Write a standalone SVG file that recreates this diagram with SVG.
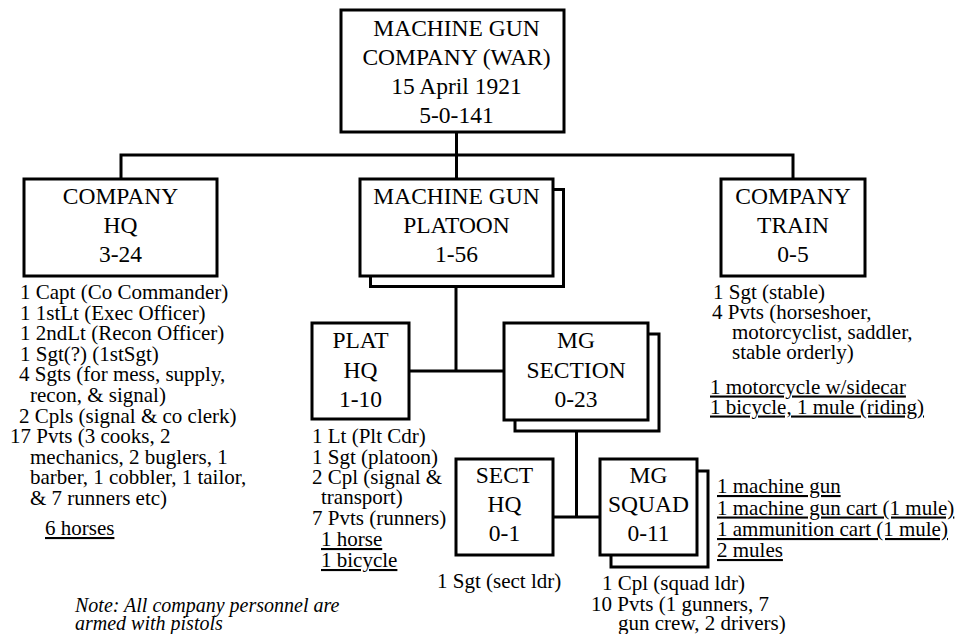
<svg xmlns="http://www.w3.org/2000/svg" width="959" height="634" viewBox="0 0 959 634">
<style>
.box{fill:#fff;stroke:#000;stroke-width:3}
.con{fill:none;stroke:#000;stroke-width:3}
.h{font-size:23.5px;text-anchor:middle;fill:#000}
.t{font-size:21px;fill:#000}
.u{text-decoration:underline}
.n{font-size:20px;font-style:italic;fill:#000}
</style>
<rect width="959" height="634" fill="#fff"/>
<g id="connectors">
<path class="con" d="M456.5,132 V180 M121,180 V155 H793 V180"/>
<path class="con" d="M456,287 V371 M409,371 H504"/>
<path class="con" d="M576.5,431 V517 M553,517 H600"/>
</g>
<g font-family="'Liberation Serif', 'DejaVu Serif', 'Times New Roman', serif">
<g id="company">
<rect class="box" x="341" y="10" width="223" height="122"/>
<text class="h" x="456.5" y="36">MACHINE GUN</text>
<text class="h" x="456.5" y="65">COMPANY (WAR)</text>
<text class="h" x="456.5" y="94">15 April 1921</text>
<text class="h" x="456.5" y="123">5-0-141</text>
</g>
<g id="company-hq">
<rect class="box" x="24" y="179" width="193" height="97"/>
<text class="h" x="120.5" y="204">COMPANY</text>
<text class="h" x="120.5" y="233">HQ</text>
<text class="h" x="120.5" y="262">3-24</text>
<text class="t" x="20" y="299">1 Capt (Co Commander)</text>
<text class="t" x="20" y="319.6">1 1stLt (Exec Officer)</text>
<text class="t" x="20" y="340.2">1 2ndLt (Recon Officer)</text>
<text class="t" x="20" y="360.8">1 Sgt(?) (1stSgt)</text>
<text class="t" x="19" y="381.4">4 Sgts (for mess, supply,</text>
<text class="t" x="30" y="402">recon, &amp; signal)</text>
<text class="t" x="19" y="422.6">2 Cpls (signal &amp; co clerk)</text>
<text class="t" x="10" y="443.2">17 Pvts (3 cooks, 2</text>
<text class="t" x="30" y="463.8">mechanics, 2 buglers, 1</text>
<text class="t" x="30" y="484.4">barber, 1 cobbler, 1 tailor,</text>
<text class="t" x="30" y="505">&amp; 7 runners etc)</text>
<text class="t u" x="45" y="535">6 horses</text>
</g>
<g id="mg-platoon">
<rect class="box" x="370.5" y="189.5" width="193" height="97"/>
<rect class="box" x="360" y="179" width="193" height="97"/>
<text class="h" x="456.5" y="204">MACHINE GUN</text>
<text class="h" x="456.5" y="233">PLATOON</text>
<text class="h" x="456.5" y="262">1-56</text>
</g>
<g id="company-train">
<rect class="box" x="721" y="179" width="144" height="97"/>
<text class="h" x="793" y="204">COMPANY</text>
<text class="h" x="793" y="233">TRAIN</text>
<text class="h" x="793" y="262">0-5</text>
<text class="t" x="713" y="298.5">1 Sgt (stable)</text>
<text class="t" x="712" y="318.5">4 Pvts (horseshoer,</text>
<text class="t" x="732" y="338.5">motorcyclist, saddler,</text>
<text class="t" x="732" y="358.5">stable orderly)</text>
<text class="t u" x="710" y="393.5">1 motorcycle w/sidecar</text>
<text class="t u" x="710" y="413.5">1 bicycle, 1 mule (riding)</text>
</g>
<g id="plat-hq">
<rect class="box" x="312" y="323" width="97" height="96"/>
<text class="h" x="360.5" y="348">PLAT</text>
<text class="h" x="360.5" y="378">HQ</text>
<text class="h" x="360.5" y="407">1-10</text>
<text class="t" x="312" y="442.5">1 Lt (Plt Cdr)</text>
<text class="t" x="312" y="463.5">1 Sgt (platoon)</text>
<text class="t" x="312" y="484">2 Cpl (signal &amp;</text>
<text class="t" x="321" y="504">transport)</text>
<text class="t" x="312" y="525">7 Pvts (runners)</text>
<text class="t u" x="321" y="546">1 horse</text>
<text class="t u" x="321" y="567">1 bicycle</text>
</g>
<g id="mg-section">
<rect class="box" x="515" y="334" width="144" height="97"/>
<rect class="box" x="504" y="323" width="144" height="97"/>
<text class="h" x="576" y="348">MG</text>
<text class="h" x="576" y="378">SECTION</text>
<text class="h" x="576" y="407">0-23</text>
</g>
<g id="sect-hq">
<rect class="box" x="456" y="459" width="97" height="96"/>
<text class="h" x="504.5" y="483">SECT</text>
<text class="h" x="504.5" y="512">HQ</text>
<text class="h" x="504.5" y="541">0-1</text>
<text class="t" x="437" y="588">1 Sgt (sect ldr)</text>
</g>
<g id="mg-squad">
<rect class="box" x="611" y="471" width="97" height="96"/>
<rect class="box" x="600" y="459" width="97" height="96"/>
<text class="h" x="648.5" y="483">MG</text>
<text class="h" x="648.5" y="512">SQUAD</text>
<text class="h" x="648.5" y="541">0-11</text>
<text class="t u" x="717" y="493">1 machine gun</text>
<text class="t u" x="717" y="514.5">1 machine gun cart (1 mule)</text>
<text class="t u" x="717" y="536">1 ammunition cart (1 mule)</text>
<text class="t u" x="717" y="557">2 mules</text>
<text class="t" x="602" y="590">1 Cpl (squad ldr)</text>
<text class="t" x="591" y="610.5">10 Pvts (1 gunners, 7</text>
<text class="t" x="618" y="630">gun crew, 2 drivers)</text>
</g>
<g id="note">
<text class="n" x="75" y="612">Note: All company personnel are</text>
<text class="n" x="75" y="630">armed with pistols</text>
</g>
</g>
</svg>
